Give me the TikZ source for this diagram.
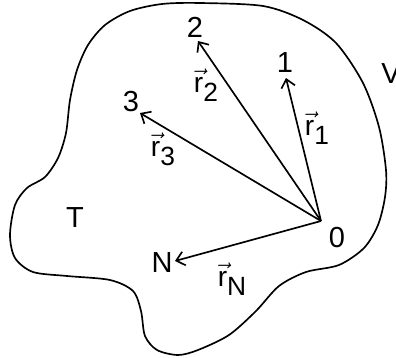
\documentclass[tikz,border=0pt]{standalone}
\usepackage{fontspec}
\setmainfont{Liberation Sans}
\usetikzlibrary{arrows.meta}
\newcommand{\rvec}[1]{$\vec{\mbox{r}}$\raisebox{-0.6ex}{\fontsize{15}{17}\selectfont #1}}

\begin{document}
\begin{tikzpicture}[x=0.02cm, y=-0.02cm, line width=0.95pt,
    pointlbl/.style={font=\fontsize{16.5}{19}\selectfont, inner sep=0pt},
    veclbl/.style={font=\fontsize{16}{19}\selectfont, inner sep=0pt},
    radius/.style={-{Straight Barb[length=0.16cm,width=0.28cm]}}]
    \useasboundingbox (0,0) rectangle (396,358);

        % Body
        \draw plot[smooth cycle] coordinates {(200,3) (263,6) (303,20) (336,43) (363,83)
            (379,127) (386,170) (385,197) (378,225) (364,248) (339,265) (306,272)
            (279,286) (256,311) (229,335) (198,350) (178,355) (157,350) (145,336)
            (141,311) (133,291) (110,280) (67,276) (33,272) (15,258) (10,235)
            (15,205) (27,188) (45,177) (58,158) (66,133) (70,100) (77,70) (88,45)
            (105,25) (130,11) (162,4)};

        % Vertices
        \coordinate (o) at (321,221);
        \coordinate (p1) at (286,78);
        \coordinate (p2) at (198,41);
        \coordinate (p3) at (140,113);
        \coordinate (pN) at (175,261);
        \node[pointlbl](oLbl) at (337,238){0};
        \node[pointlbl](p1Lbl) at (285,63){1};
        \node[pointlbl](p2Lbl) at (195,27){2};
        \node[pointlbl](p3Lbl) at (131,102){3};
        \node[pointlbl](pNLbl) at (162,263){N};
        \node[pointlbl](tLbl) at (75,218){T};
        \node[pointlbl](vLbl) at (391,74){V};
        \node[veclbl](r1)  at (317,128){\rvec{1}};
        \node[veclbl](r2)  at (206,85){\rvec{2}};
        \node[veclbl](r3)  at (163,149){\rvec{3}};
        \node[veclbl](rN)  at (232,279){\rvec{N}};
        % Edges
        \draw[radius](o) -- (p1);
        \draw[radius](o) -- (p2);
        \draw[radius](o) -- (p3);
        \draw[radius](o) -- (pN);

    \end{tikzpicture}
\end{document}
